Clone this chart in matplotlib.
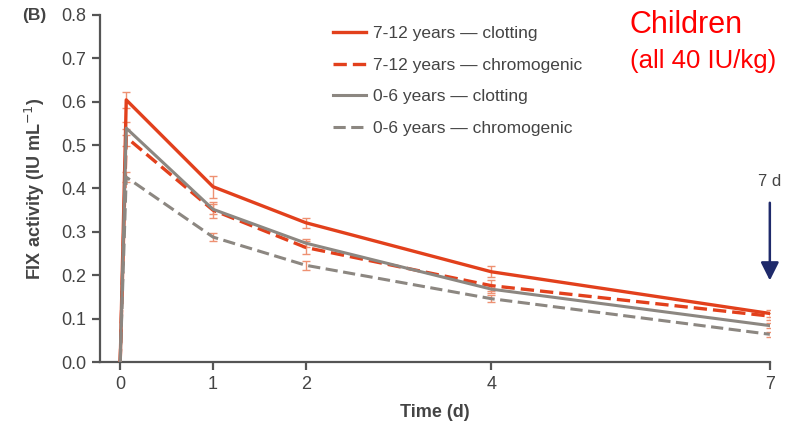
import matplotlib.pyplot as plt

plt.rcParams['font.family'] = ['Liberation Sans', 'DejaVu Sans']

# time points (days); second point is the post-infusion peak
time_d = [0.0, 0.065, 1, 2, 4, 7]

red_clot = [0.0, 0.604, 0.404, 0.321, 0.208, 0.112]
red_chromo = [0.0, 0.518, 0.350, 0.264, 0.176, 0.106]
gray_clot = [0.0, 0.539, 0.352, 0.274, 0.168, 0.084]
gray_chromo = [0.0, 0.426, 0.288, 0.223, 0.146, 0.064]

red_clot_err = [0.0, 0.018, 0.025, 0.012, 0.013, 0.007]
red_chromo_err = [0.0, 0.020, 0.018, 0.014, 0.012, 0.008]
gray_clot_err = [0.0, 0.015, 0.012, 0.010, 0.010, 0.006]
gray_chromo_err = [0.0, 0.012, 0.010, 0.010, 0.008, 0.006]

labels = ["7-12 years \u2014 clotting", "7-12 years \u2014 chromogenic",
          "0-6 years \u2014 clotting", "0-6 years \u2014 chromogenic"]
x_ticks = [0, 1, 2, 4, 7]
y_ticks = [0.0, 0.1, 0.2, 0.3, 0.4, 0.5, 0.6, 0.7, 0.8]

RED = "#e2401c"
GRAY = "#8c8781"
ERR = "#ee9172"
TXT = "#444444"

fig = plt.figure(figsize=(7.92, 4.23), dpi=100)
ax = fig.add_axes([0.126, 0.144, 0.846, 0.821])

dash = (0, (4, 1.8))
series = [
    (red_clot, red_clot_err, RED, "-", 2.4),
    (red_chromo, red_chromo_err, RED, dash, 2.4),
    (gray_clot, gray_clot_err, GRAY, "-", 2.2),
    (gray_chromo, gray_chromo_err, GRAY, dash, 2.2),
]

handles = []
for (vals, errs, col, ls, lw), lab in zip(series, labels):
    ax.errorbar(time_d, vals, yerr=errs, fmt="none", ecolor=ERR,
                elinewidth=1.0, capsize=3, capthick=1.0, zorder=2)
    h, = ax.plot(time_d, vals, color=col, linestyle=ls, linewidth=lw, zorder=3)
    handles.append(h)

ax.set_xlim(-0.22, 7.0)
ax.set_ylim(0.0, 0.8)
ax.set_xticks(x_ticks)
ax.set_yticks(y_ticks)
ax.set_yticklabels([f"{v:.1f}" for v in y_ticks])
for s in ["top", "right"]:
    ax.spines[s].set_visible(False)
for s in ["left", "bottom"]:
    ax.spines[s].set_color("#555555")
    ax.spines[s].set_linewidth(1.6)
ax.tick_params(direction="out", length=6, width=1.6, color="#555555",
               labelsize=13, labelcolor=TXT, pad=4)

ax.set_xlabel("Time (d)", fontsize=13, fontweight="bold", color=TXT, labelpad=8)
ax.set_ylabel("FIX activity (IU mL$^{-1}$)", fontsize=13, fontweight="bold",
              color=TXT, labelpad=10)

leg = ax.legend(handles, labels, loc="upper left", bbox_to_anchor=(0.325, 1.013),
                frameon=False, fontsize=12.5, handlelength=1.9, handletextpad=0.4,
                labelspacing=0.95)
for t in leg.get_texts():
    t.set_color(TXT)

fig.text(0.028, 0.963, "(B)", fontsize=12.5, fontweight="bold", color=TXT,
         va="center")

fig.text(0.795, 0.94, "Children", fontsize=22, color="#ff0000", va="center")
fig.text(0.795, 0.855, "(all 40 IU/kg)", fontsize=18.5, color="#ff0000",
         va="center")

ax.annotate("", xy=(7, 0.188), xytext=(7, 0.367),
            arrowprops=dict(arrowstyle="-|>,head_width=0.55,head_length=1.1",
                            color="#1f2a6b", lw=1.8, shrinkA=0, shrinkB=0),
            annotation_clip=False)
ax.text(7, 0.415, "7 d", fontsize=12, color=TXT, ha="center", va="center")

fig.savefig("out.png", dpi=100)
